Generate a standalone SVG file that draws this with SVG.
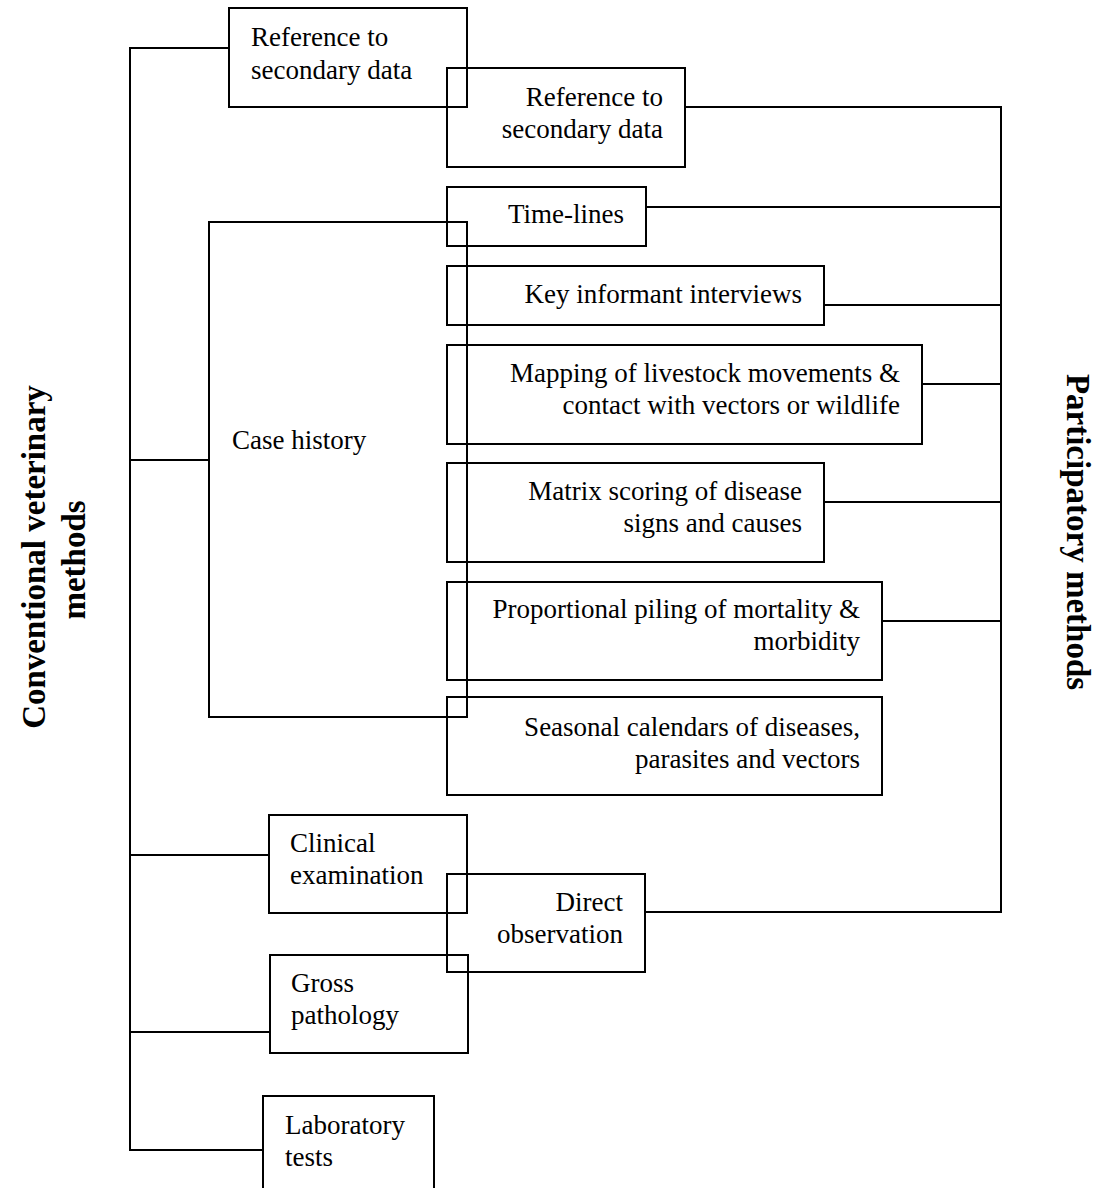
<svg xmlns="http://www.w3.org/2000/svg" width="1095" height="1188" viewBox="0 0 1095 1188">
<style>
rect.b{fill:none;stroke:#000;stroke-width:2}
.c line{stroke:#000;stroke-width:2}
text{font-family:"Liberation Serif","Times New Roman",serif;font-size:27px;fill:#000}
text.e{text-anchor:end}
text.h{font-weight:bold;font-size:33px;text-anchor:middle}
</style>
<rect width="1095" height="1188" fill="#fff"/>
<g class="c" id="connectors">
<line x1="130" y1="47" x2="130" y2="1151"/>
<line x1="129" y1="48" x2="229" y2="48"/>
<line x1="129" y1="460" x2="209" y2="460"/>
<line x1="129" y1="855" x2="269" y2="855"/>
<line x1="129" y1="1032" x2="270" y2="1032"/>
<line x1="129" y1="1150" x2="263" y2="1150"/>
<line x1="1001" y1="106" x2="1001" y2="913"/>
<line x1="685" y1="107" x2="1002" y2="107"/>
<line x1="646" y1="207" x2="1002" y2="207"/>
<line x1="824" y1="305" x2="1002" y2="305"/>
<line x1="922" y1="384" x2="1002" y2="384"/>
<line x1="824" y1="502" x2="1002" y2="502"/>
<line x1="882" y1="621" x2="1002" y2="621"/>
<line x1="645" y1="912" x2="1002" y2="912"/>
</g>
<g id="ref-left"><rect class="b" x="229" y="8" width="238" height="99"/><text x="251" y="46">Reference to</text><text x="251" y="79">secondary data</text></g>
<g id="ref-right"><rect class="b" x="447" y="68" width="238" height="99"/><text class="e" x="663" y="106">Reference to</text><text class="e" x="663" y="138">secondary data</text></g>
<g id="timelines"><rect class="b" x="447" y="187" width="199" height="59"/><text class="e" x="624" y="223">Time-lines</text></g>
<g id="case-history"><rect class="b" x="209" y="222" width="258" height="495"/><text x="232" y="449">Case history</text></g>
<g id="key-informant"><rect class="b" x="447" y="266" width="377" height="59"/><text class="e" x="802" y="303">Key informant interviews</text></g>
<g id="mapping"><rect class="b" x="447" y="345" width="475" height="99"/><text class="e" x="900" y="382">Mapping of livestock movements &amp;</text><text class="e" x="900" y="414">contact with vectors or wildlife</text></g>
<g id="matrix"><rect class="b" x="447" y="463" width="377" height="99"/><text class="e" x="802" y="500">Matrix scoring of disease</text><text class="e" x="802" y="532">signs and causes</text></g>
<g id="proportional"><rect class="b" x="447" y="582" width="435" height="98"/><text class="e" x="860" y="618">Proportional piling of mortality &amp;</text><text class="e" x="860" y="650">morbidity</text></g>
<g id="seasonal"><rect class="b" x="447" y="697" width="435" height="98"/><text class="e" x="860" y="736">Seasonal calendars of diseases,</text><text class="e" x="860" y="768">parasites and vectors</text></g>
<g id="clinical"><rect class="b" x="269" y="815" width="198" height="98"/><text x="290" y="852">Clinical</text><text x="290" y="884">examination</text></g>
<g id="direct"><rect class="b" x="447" y="874" width="198" height="98"/><text class="e" x="623" y="911">Direct</text><text class="e" x="623" y="943">observation</text></g>
<g id="gross"><rect class="b" x="270" y="955" width="198" height="98"/><text x="291" y="992">Gross</text><text x="291" y="1024">pathology</text></g>
<g id="lab"><rect class="b" x="263" y="1096" width="171" height="110"/><text x="285" y="1134">Laboratory</text><text x="285" y="1166">tests</text></g>
<g id="label-conventional"><text class="h" transform="translate(45,557) rotate(-90)">Conventional veterinary</text><text class="h" transform="translate(85,560) rotate(-90)">methods</text></g>
<g id="label-participatory"><text class="h" transform="translate(1067,532) rotate(90)">Participatory methods</text></g>
</svg>
